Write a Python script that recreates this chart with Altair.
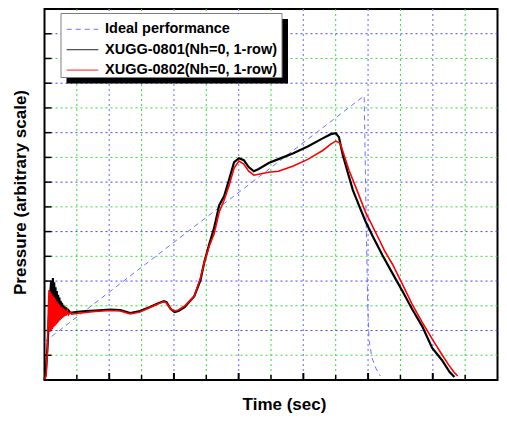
import altair as alt
import pandas as pd

# ---------------- data (arbitrary units) ----------------
ideal_x = [0, 9.88, 9.94, 9.99, 10.03, 10.12, 10.25, 10.38]
ideal_y = [1.54, 11.49, 6.5, 3.0, 1.62, 0.9, 0.45, 0.16]

s0801_x = [0, 0.04, 0.10, 0.16, 0.20,
           0.22, 0.24, 0.26, 0.28, 0.30, 0.32, 0.34, 0.36, 0.38, 0.40, 0.42, 0.44, 0.46,
           0.48, 0.50, 0.52, 0.54, 0.56, 0.58, 0.60, 0.62, 0.64, 0.66, 0.68, 0.70, 0.72,
           0.75, 0.80,
           0.96, 1.27, 1.57, 2.03, 2.34, 2.65, 2.95, 3.26, 3.50, 3.69,
           3.77, 3.90, 4.02, 4.14, 4.33, 4.63, 4.82, 4.94, 5.09, 5.24, 5.40, 5.55, 5.70,
           5.86, 6.01, 6.16, 6.31, 6.47, 6.62, 6.93, 7.23, 7.69, 8.15, 8.61, 8.85, 9.00,
           9.10, 9.22, 9.37, 9.53, 9.74, 9.92, 10.14, 10.44, 10.75, 11.06, 11.36, 11.67,
           11.98, 12.28, 12.52, 12.67]
s0801_y = [0, 0.30, 1.50, 3.20, 3.90,
           4.00, 2.22, 4.12, 2.25, 3.95, 2.28, 3.75, 2.32, 3.60, 2.40, 3.45, 2.44, 3.33,
           2.48, 3.20, 2.52, 3.12, 2.56, 3.04, 2.60, 2.98, 2.63, 2.94, 2.65, 2.90, 2.68,
           2.80, 2.72,
           2.75, 2.79, 2.81, 2.85, 2.83, 2.71, 2.79, 2.95, 3.09, 3.19,
           3.15, 2.87, 2.75, 2.79, 2.95, 3.39, 4.04, 4.77, 5.49, 6.14, 7.07, 7.43, 8.08,
           8.81, 8.97, 8.89, 8.61, 8.44, 8.53, 8.77, 8.93, 9.17, 9.45, 9.78, 9.94, 9.98,
           9.82, 9.09, 8.40, 7.68, 6.99, 6.42, 5.82, 5.05, 4.32, 3.60, 2.87, 2.18,
           1.30, 0.81, 0.32, 0.12]

s0802_x = [0, 0.05, 0.09, 0.12, 0.14,
           0.16, 0.18, 0.20, 0.22, 0.24, 0.26, 0.28, 0.30, 0.32, 0.34, 0.36, 0.38, 0.40,
           0.42, 0.44, 0.46, 0.48, 0.50, 0.52, 0.54, 0.56, 0.58, 0.60, 0.63, 0.66, 0.70,
           0.74, 0.80, 0.84,
           1.12, 1.57, 2.03, 2.34, 2.65, 2.95, 3.26, 3.50, 3.69,
           3.77, 3.90, 4.02, 4.14, 4.33, 4.63, 4.82, 4.94, 5.09, 5.24, 5.40, 5.55, 5.70,
           5.86, 6.01, 6.16, 6.31, 6.47, 6.62, 6.93, 7.23, 7.69, 8.15, 8.61, 8.85, 9.00,
           9.13, 9.22, 9.41, 9.62, 9.92, 10.35, 10.50, 10.75, 11.06, 11.36, 11.67, 12.06,
           12.31, 12.49, 12.65, 12.77]
s0802_y = [0.04, 0.16, 1.20, 2.90, 3.64,
           1.95, 3.58, 2.00, 3.50, 2.05, 3.42, 2.12, 3.34, 2.18, 3.26, 2.24, 3.18, 2.30,
           3.10, 2.36, 3.04, 2.42, 2.98, 2.47, 2.94, 2.52, 2.90, 2.56, 2.86, 2.60, 2.82,
           2.64, 2.74, 2.66,
           2.71, 2.77, 2.81, 2.79, 2.67, 2.75, 2.93, 3.07, 3.17,
           3.11, 2.87, 2.79, 2.83, 2.99, 3.39, 4.12, 4.77, 5.41, 5.90, 6.79, 7.27, 7.84,
           8.57, 8.85, 8.73, 8.44, 8.28, 8.32, 8.40, 8.44, 8.65, 8.93, 9.29, 9.54, 9.66,
           9.58, 9.25, 8.48, 7.80, 6.79, 5.66, 5.25, 4.69, 3.88, 3.07, 2.34, 1.49,
           0.97, 0.61, 0.32, 0.16]

x_major = [2, 4, 6, 8, 10, 12]
x_minor = [1, 3, 5, 7, 9, 11, 13]
y_major = [2, 4, 6, 8, 10, 12, 14]
y_minor = [1, 3, 5, 7, 9, 11, 13]

legend_labels = ["Ideal performance", "XUGG-0801(Nh=0, 1-row)", "XUGG-0802(Nh=0, 1-row)"]
legend_colors = ["#7070ff", "#000000", "#ff0000"]

# ---------------- chart ----------------
W, H = 453, 371
LEFT = 36.5          # plot left edge sits at page x = 8 + LEFT
FONT = "Liberation Sans"
xs = alt.Scale(domain=[0, 14], nice=False, zero=False)
ys = alt.Scale(domain=[0, 15], nice=False, zero=False)
xax = alt.Axis(title="Time (sec)", labels=False, ticks=False, domain=False, grid=False,
               titleFont=FONT, titleFontSize=17, titleFontWeight="bold", titleColor="black",
               titleX=284 - 8 - LEFT, titleY=29, titleBaseline="alphabetic",
               titleAlign="center")
yax = alt.Axis(title="Pressure (arbitrary scale)", labels=False, ticks=False, domain=False,
               grid=False, titleFont=FONT, titleFontSize=17, titleFontWeight="bold",
               titleColor="black", titleX=20 - 8 - LEFT, titleY=183, titleBaseline="middle",
               titleAlign="center", titleAngle=-90)


def X(field="x"):
    return alt.X(f"{field}:Q", scale=xs, axis=xax)


def Y(field="y"):
    return alt.Y(f"{field}:Q", scale=ys, axis=yax)


def series(xv, yv):
    return pd.DataFrame({"x": xv, "y": yv, "i": range(len(xv))})


def px(page_x):
    return page_x - 8 - LEFT


one = pd.DataFrame({"x": [0], "y": [0]})

layers = []
# grid lines
layers.append(alt.Chart(pd.DataFrame({"x": x_minor})).mark_rule(
    color="#33dd33", strokeWidth=1, strokeDash=[2, 3]).encode(x=X()))
layers.append(alt.Chart(pd.DataFrame({"x": x_major})).mark_rule(
    color="#8888ff", strokeWidth=1.3, strokeDash=[2, 3]).encode(x=X()))
layers.append(alt.Chart(pd.DataFrame({"y": y_minor})).mark_rule(
    color="#33dd33", strokeWidth=1, strokeDash=[2, 3]).encode(y=Y()))
layers.append(alt.Chart(pd.DataFrame({"y": y_major})).mark_rule(
    color="#4444ff", strokeWidth=1, strokeDash=[2, 3]).encode(y=Y()))

# inward ticks
layers.append(alt.Chart(pd.DataFrame({"x": x_major})).mark_rule(
    color="black", strokeWidth=2).encode(x=X(), y=alt.value(H), y2=alt.value(H - 7)))
layers.append(alt.Chart(pd.DataFrame({"x": x_minor})).mark_rule(
    color="black", strokeWidth=1.5).encode(x=X(), y=alt.value(H), y2=alt.value(H - 5)))
layers.append(alt.Chart(pd.DataFrame({"y": y_major + y_minor})).mark_rule(
    color="black", strokeWidth=1.5).encode(y=Y(), x=alt.value(0), x2=alt.value(7)))

# data lines
layers.append(alt.Chart(series(ideal_x, ideal_y)).mark_line(
    color=legend_colors[0], strokeWidth=1, strokeDash=[5, 4]).encode(x=X(), y=Y(), order="i:Q"))
layers.append(alt.Chart(series(s0801_x, s0801_y)).mark_line(
    color=legend_colors[1], strokeWidth=2.2).encode(x=X(), y=Y(), order="i:Q"))
layers.append(alt.Chart(series(s0802_x, s0802_y)).mark_line(
    color=legend_colors[2], strokeWidth=1.6).encode(x=X(), y=Y(), order="i:Q"))

# legend box with shadow
layers.append(alt.Chart(one).mark_rect(color="black").encode(
    x=alt.value(px(66.5)), x2=alt.value(px(288)), y=alt.value(10), y2=alt.value(74.5)))
layers.append(alt.Chart(one).mark_rect(fill="white", stroke="#808080", strokeWidth=1).encode(
    x=alt.value(px(61)), x2=alt.value(px(282)), y=alt.value(4.5), y2=alt.value(68.5)))
for k, (lab, col) in enumerate(zip(legend_labels, legend_colors)):
    yy = 20.3 + 20.4 * k
    rule = alt.Chart(one).mark_rule(color=col, strokeWidth=1,
                                     strokeDash=[5, 4] if k == 0 else [1, 0])
    layers.append(rule.encode(x=alt.value(px(66.7)), x2=alt.value(px(98.3)), y=alt.value(yy)))
    layers.append(alt.Chart(one).mark_text(
        text=lab, font=FONT, fontSize=14.5, fontWeight="bold", align="left",
        baseline="middle", color="black").encode(x=alt.value(px(105)), y=alt.value(yy)))

chart = alt.layer(*layers).properties(
    width=W, height=H, autosize=alt.AutoSizeParams(type="none"),
    padding={"left": LEFT, "top": 1, "right": 1.5, "bottom": 33},
).configure_view(stroke="black", strokeWidth=2)

chart.save("out.html", embed_options={"renderer": "svg", "actions": False})
